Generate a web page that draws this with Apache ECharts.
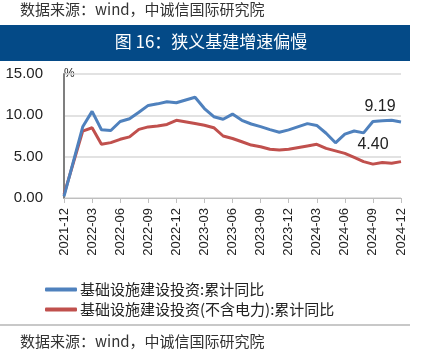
<!DOCTYPE html>
<html><head><meta charset="utf-8">
<script src="https://cdn.jsdelivr.net/npm/echarts@6/dist/echarts.min.js"></script>
<style>html,body{margin:0;padding:0;background:#fff}#c{width:422px;height:357px}</style>
</head><body><div id="c"></div>
<script>
const months = ['2021-12','2022-01','2022-02','2022-03','2022-04','2022-05','2022-06','2022-07','2022-08','2022-09','2022-10','2022-11','2022-12',
'2023-01','2023-02','2023-03','2023-04','2023-05','2023-06','2023-07','2023-08','2023-09','2023-10','2023-11','2023-12',
'2024-01','2024-02','2024-03','2024-04','2024-05','2024-06','2024-07','2024-08','2024-09','2024-10','2024-11','2024-12'];
const infraTotal = [0.2,null,8.61,10.48,8.26,8.16,9.25,9.58,10.37,11.2,11.39,11.65,11.52,
null,12.18,10.82,9.83,9.52,10.15,9.4,8.95,8.64,8.27,7.96,8.24,
null,9.0,8.78,7.83,6.68,7.72,8.1,7.88,9.26,9.35,9.4,9.19];
const infraExPower = [0.4,null,8.1,8.5,6.5,6.7,7.1,7.4,8.3,8.6,8.7,8.9,9.4,
null,9.0,8.8,8.5,7.5,7.2,6.8,6.4,6.2,5.9,5.8,5.9,
null,6.3,6.5,6.0,5.7,5.4,4.9,4.4,4.1,4.3,4.2,4.4];
const yTicks = [0,5,10,15];
const seriesNames = ['基础设施建设投资:累计同比','基础设施建设投资(不含电力):累计同比'];
const sourceText = '数据来源：wind，中诚信国际研究院';
const titleText = '图 16：狭义基建增速偏慢';

const cjk = '"Noto Sans CJK SC", sans-serif';
function endLabel(offset){
  return {show:true, align:'center', verticalAlign:'bottom', distance:0, offset:offset,
    formatter:(p)=>Number(p.value).toFixed(2), fontSize:16, color:'#222',
    fontFamily:'Arial, "Liberation Sans", sans-serif'};
}
const chart = echarts.init(document.getElementById('c'));
chart.setOption({
  animation:false,
  grid:{left:64, right:21, top:74, bottom:159},
  graphic:[
    {type:'text', left:20, top:2, style:{text:sourceText, font:'15px '+cjk, fill:'#333'}},
    {type:'rect', shape:{x:0,y:25,width:410,height:36}, style:{fill:'#044A87'}},
    {type:'text', left:'center', top:33, style:{text:titleText, font:'17px '+cjk, fill:'#fff', x:-6}},
    {type:'text', left:64, top:68, style:{text:'%', font:'12px Arial', fill:'#222'}},
    {type:'line', shape:{x1:0,y1:325,x2:410,y2:325}, style:{stroke:'#c8c8c8', lineWidth:2}},
    {type:'text', left:20, top:334, style:{text:sourceText, font:'15px '+cjk, fill:'#333'}}
  ],
  legend:{orient:'vertical', left:40, top:277, itemWidth:32, itemHeight:4, itemGap:5,
    icon:'roundRect',
    textStyle:{fontSize:15, fontFamily:cjk, color:'#222', padding:[0,0,0,-2]},
    data:seriesNames},
  xAxis:{type:'category', data:months, boundaryGap:false,
    axisLine:{lineStyle:{color:'#bfbfbf', width:1}},
    axisTick:{interval:2, length:5, lineStyle:{color:'#bfbfbf'}},
    axisLabel:{interval:2, rotate:90, margin:10, fontSize:13, color:'#222', fontFamily:'Arial, "Liberation Sans", sans-serif'},
    splitLine:{show:false}},
  yAxis:{type:'value', min:0, max:15, interval:5,
    axisLine:{show:true, lineStyle:{color:'#7f7f7f', width:2}},
    axisTick:{show:false},
    axisLabel:{margin:21, fontSize:15, color:'#222', fontFamily:'Arial, "Liberation Sans", sans-serif', formatter:(v)=>v.toFixed(2)},
    splitLine:{lineStyle:{color:'#d9d9d9', width:1.5}}},
  series:[
    {name:seriesNames[0], type:'line', data:infraTotal, connectNulls:true, showSymbol:false, symbol:'none',
      endLabel:endLabel([-21,-7]),
      lineStyle:{color:'#4F81BD', width:3}, itemStyle:{color:'#4F81BD'}, z:3},
    {name:seriesNames[1], type:'line', data:infraExPower, connectNulls:true, showSymbol:false, symbol:'none',
      endLabel:endLabel([-28,-9]),
      lineStyle:{color:'#C0504D', width:3}, itemStyle:{color:'#C0504D'}, z:2}
  ]
});
</script></body></html>
